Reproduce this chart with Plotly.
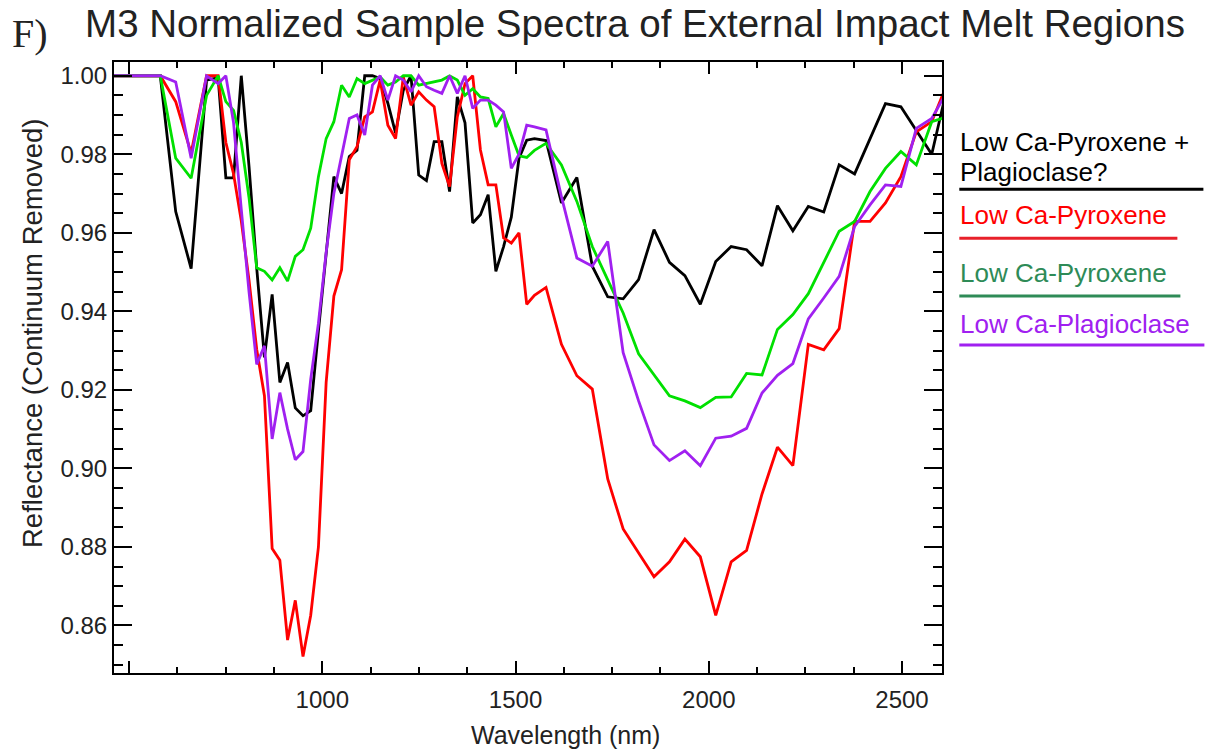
import plotly.graph_objects as go

# ---------------- data ----------------
wavelength = [460.99, 500.92, 540.84, 580.76, 620.69, 660.61, 700.54,
              730.48, 750.44, 770.40, 790.37, 810.33, 830.29, 850.25, 870.21, 890.17, 910.14,
              930.10, 950.06, 970.02, 989.98, 1009.95, 1029.91, 1049.87, 1069.83, 1089.79, 1109.76,
              1129.72, 1149.68, 1169.64, 1189.60, 1209.57, 1229.53, 1249.49, 1269.45, 1289.41, 1309.38,
              1329.34, 1349.30, 1369.26, 1389.22, 1409.19, 1429.15, 1449.11, 1469.07, 1489.03, 1508.99,
              1528.96, 1548.92,
              1578.86, 1618.79, 1658.71, 1698.63, 1738.56, 1778.48, 1818.40, 1858.33, 1898.25, 1938.18,
              1978.10, 2018.02, 2057.95, 2097.87, 2137.80, 2177.72, 2217.64, 2257.57, 2297.49, 2337.42,
              2377.34, 2417.26, 2457.19, 2497.11, 2537.03, 2576.96, 2616.88]

pyx_plag = [1.0, 1.0, 1.0, 1.0, 0.9654, 0.9509, 0.9989,
            0.9995, 0.974, 0.974, 1.0, 0.977, 0.951, 0.9283, 0.9443, 0.9219, 0.927,
            0.9154, 0.9134, 0.9147, 0.935, 0.955, 0.9743, 0.970, 0.9794, 0.981, 1.0,
            1.0, 0.9993, 0.993, 0.9854, 0.9963, 1.0, 0.9747, 0.9733, 0.9832, 0.9832,
            0.9705, 0.9946, 0.988, 0.9625, 0.9646, 0.9697, 0.9502, 0.9565, 0.964, 0.979,
            0.9836, 0.984,
            0.9835, 0.9676, 0.9741, 0.9515, 0.9437, 0.9432, 0.9481, 0.9608, 0.9525, 0.9491,
            0.9418, 0.9527, 0.9565, 0.9557, 0.9516, 0.9669, 0.9605, 0.9667, 0.9653, 0.9773,
            0.975, 0.9841, 0.9929, 0.9921, 0.9862, 0.980, 0.997]

pyx_red = [1.0, 1.0, 1.0, 1.0, 0.9934, 0.9803, 1.0,
           1.0, 0.983, 0.975, 0.963, 0.948, 0.9303, 0.9185, 0.8796, 0.8766, 0.8563,
           0.8664, 0.8521, 0.8626, 0.880, 0.9219, 0.9439, 0.9506, 0.9786, 0.9819, 0.9895,
           0.9908, 0.9989, 0.9874, 0.984, 0.9997, 0.9925, 0.9959, 0.9938, 0.9921, 0.9777,
           0.9718, 0.9895, 0.998, 1.0, 0.9811, 0.9722, 0.9722, 0.9587, 0.9574, 0.960,
           0.9418, 0.9441,
           0.9461, 0.9316, 0.9236, 0.9202, 0.8973, 0.8846, 0.8786, 0.8724, 0.8762, 0.882,
           0.8775, 0.8626, 0.8762, 0.8791, 0.8935, 0.9054, 0.9007, 0.9316, 0.9302, 0.9356,
           0.9629, 0.9629, 0.9676, 0.9743, 0.9857, 0.9883, 0.998]

pyx_green = [1.0, 1.0, 1.0, 1.0, 0.979, 0.9739, 0.995,
             1.0, 0.9934, 0.9912, 0.983, 0.969, 0.9511, 0.9502, 0.948, 0.9511, 0.9477,
             0.954, 0.9557, 0.9612, 0.9743, 0.984, 0.9883, 0.9976, 0.9946, 0.9993, 0.998,
             0.9989, 0.9997, 0.9976, 0.9984, 1.0, 1.0, 0.9976, 0.998, 0.9984, 0.9989,
             1.0, 0.9989, 0.995, 0.9967, 0.9946, 0.9942, 0.987, 0.9904, 0.9849, 0.9796,
             0.9792, 0.981,
             0.9828, 0.9773, 0.968, 0.9565, 0.948, 0.9396, 0.9292, 0.924, 0.9185, 0.9172,
             0.9155, 0.9181, 0.9182, 0.9242, 0.9238, 0.9354, 0.9392, 0.9445, 0.9523, 0.9604,
             0.9629, 0.9705, 0.9764, 0.9807, 0.9773, 0.9883, 0.9895]

plag_purple = [1.0, 1.0, 1.0, 1.0, 0.9984, 0.979, 1.0,
               0.998, 1.0, 0.988, 0.966, 0.945, 0.9265, 0.9312, 0.9075, 0.9193, 0.910,
               0.9022, 0.9043, 0.9227, 0.937, 0.955, 0.970, 0.980, 0.9891, 0.990, 0.9849,
               0.9976, 1.0, 0.9938, 1.0, 0.9989, 0.9959, 1.0, 0.9972, 0.9963, 0.9955,
               1.0, 0.9955, 1.0, 0.9917, 0.9938, 0.9938, 0.9925, 0.9908, 0.9764, 0.980,
               0.9874, 0.987,
               0.9862, 0.9692, 0.9536, 0.9515, 0.9578, 0.9295, 0.9172, 0.906, 0.902, 0.9045,
               0.9007, 0.9077, 0.9082, 0.9102, 0.9192, 0.9237, 0.9267, 0.9381, 0.9434, 0.9489,
               0.9616, 0.9671, 0.9722, 0.9718, 0.9866, 0.9891, 0.996]

series_names = ["Low Ca-Pyroxene + Plagioclase?", "Low Ca-Pyroxene", "Low Ca-Pyroxene", "Low Ca-Plagioclase"]
x_tick_vals = [500, 1000, 1500, 2000, 2500]
x_tick_text = ["", "1000", "1500", "2000", "2500"]
y_tick_vals = [0.86, 0.88, 0.90, 0.92, 0.94, 0.96, 0.98, 1.00]

# ---------------- figure ----------------
W, H = 1223, 753
L, R, T, B = 114, 941.7, 61.7, 673.3

def px(xp):
    return (xp - L) / (R - L)

def py(yp):
    return (B - yp) / (B - T)

SANS = "Liberation Sans, Arial, Helvetica, sans-serif"
TXT = "#222222"

line_colors = ["#000000", "#ff0000", "#00e000", "#a020f0"]
all_series = [pyx_plag, pyx_red, pyx_green, plag_purple]

fig = go.Figure()
for name, ys, col in zip(series_names, all_series, line_colors):
    fig.add_trace(go.Scatter(x=wavelength, y=ys, mode="lines", name=name,
                             line=dict(color=col, width=2.8), showlegend=False))

axis_common = dict(showline=True, linecolor="black", linewidth=2.2, mirror="allticks",
                   ticks="inside", tickcolor="black", tickwidth=2, showgrid=False, zeroline=False,
                   automargin=False,
                   tickfont=dict(family=SANS, size=24, color=TXT))

fig.update_xaxes(range=[461, 2603.5], tickmode="array", tickvals=x_tick_vals, ticktext=x_tick_text,
                 ticklen=12, minor=dict(ticks="inside", dtick=125, tick0=500, ticklen=6,
                                        tickwidth=2, tickcolor="black", showgrid=False),
                 ticklabelstandoff=4, **axis_common)
fig.update_yaxes(range=[0.8479, 1.0035], tickmode="array", tickvals=y_tick_vals, tickformat=".2f",
                 ticklen=18, minor=dict(ticks="inside", dtick=0.005, tick0=0.86, ticklen=9,
                                        tickwidth=2, tickcolor="black", showgrid=False),
                 **axis_common)

annotations = [
    dict(text="Wavelength (nm)", x=px(565), y=py(735), xref="paper", yref="paper",
         showarrow=False, xanchor="center", yanchor="middle",
         font=dict(family=SANS, size=25, color=TXT)),
    dict(text="Reflectance (Continuum Removed)", x=px(32), y=py(333), xref="paper", yref="paper",
         showarrow=False, textangle=-90, xanchor="center", yanchor="middle",
         font=dict(family=SANS, size=27.5, color=TXT)),
    dict(text="F)", x=px(30), y=py(33), xref="paper", yref="paper", showarrow=False,
         xanchor="center", yanchor="middle",
         font=dict(family="Liberation Serif, Times New Roman, serif", size=40, color=TXT)),
]

legend_items = [
    ("Low Ca-Pyroxene +", "#000000", 142, None, None),
    ("Plagioclase?", "#000000", 172, 189, 1203),
    ("Low Ca-Pyroxene", "#ff0000", 215, 238, 1177),
    ("Low Ca-Pyroxene", "#2e8b57", 273, 296, 1180),
    ("Low Ca-Plagioclase", "#a020f0", 324, 345, 1204),
]
line_cols = {"#ff0000": "#e8202a"}
shapes = []
for text, col, ty, ly, lx2 in legend_items:
    annotations.append(dict(text=text, x=px(958), y=py(ty), xref="paper", yref="paper",
                            showarrow=False, xanchor="left", yanchor="middle",
                            font=dict(family=SANS, size=26, color=col)))
    if ly is not None:
        shapes.append(dict(type="line", xref="paper", yref="paper", x0=px(959), x1=px(lx2),
                           y0=py(ly), y1=py(ly), line=dict(color=line_cols.get(col, col), width=3)))

fig.update_layout(
    width=W, height=H,
    margin=dict(l=L, r=W - R, t=T, b=H - B, autoexpand=False),
    paper_bgcolor="white", plot_bgcolor="white",
    title=dict(text="M3 Normalized Sample Spectra of External Impact Melt Regions",
               x=635 / W, xref="container", xanchor="center",
               y=1 - 24 / H, yref="container", yanchor="middle",
               font=dict(family=SANS, size=38.5, color=TXT)),
    annotations=annotations, shapes=shapes, showlegend=False,
)

fig.write_html("out.html", config={"displayModeBar": False},
               post_script="document.body.style.margin='0px';document.body.style.padding='0px';")
